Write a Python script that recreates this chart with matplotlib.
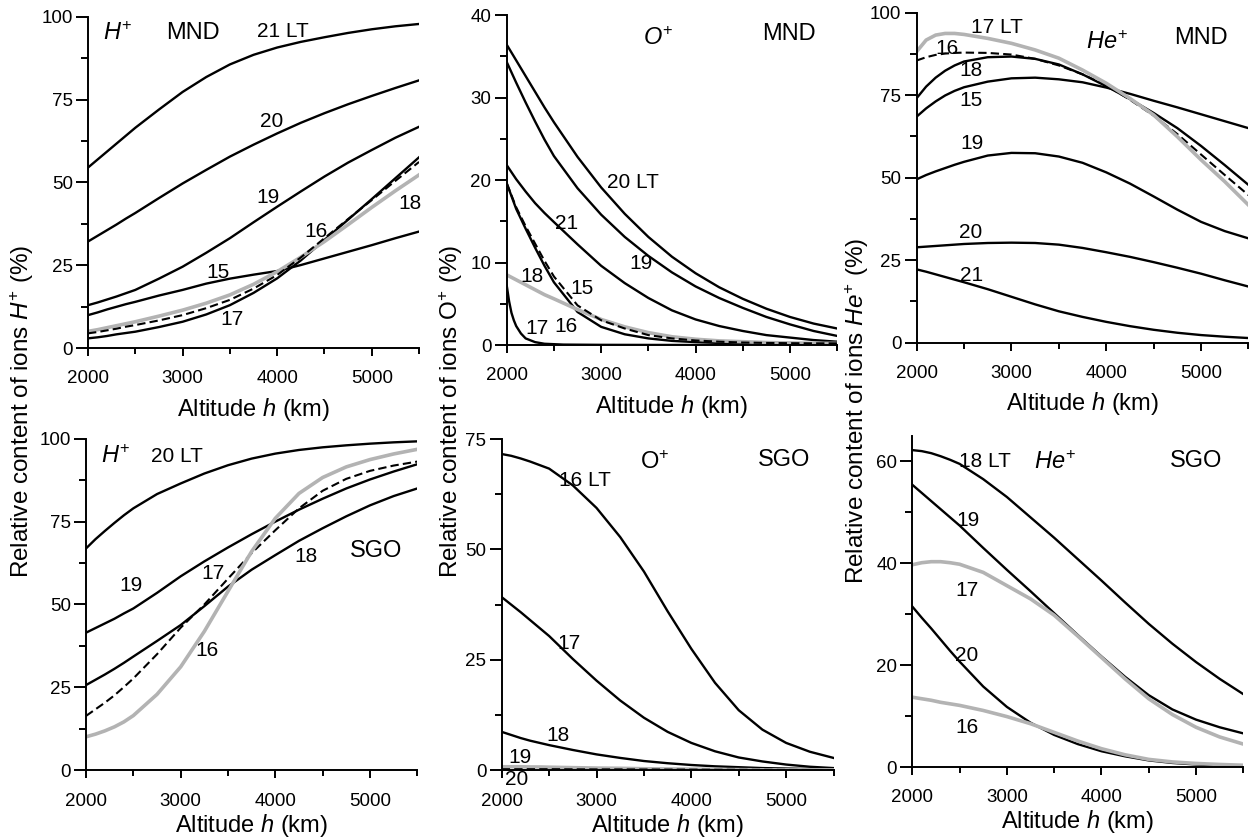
import numpy as np
import matplotlib
matplotlib.use('Agg')
import matplotlib.pyplot as plt
from matplotlib.ticker import MultipleLocator

plt.rcParams['font.family'] = ['Liberation Sans', 'DejaVu Sans']
plt.rcParams['mathtext.fontset'] = 'custom'
plt.rcParams['mathtext.rm'] = 'Liberation Sans'
plt.rcParams['mathtext.it'] = 'Liberation Sans:italic'

# altitude grid (km) shared by most curves
alt = [2000, 2100, 2200, 2300, 2400, 2500, 2750, 3000, 3250, 3500,
       3750, 4000, 4250, 4500, 4750, 5000, 5250, 5500]

# ---- H+ MND ----
hMnd15 = [10.0, 10.8, 11.7, 12.5, 13.3, 14.0, 15.9, 17.6, 19.5, 21.0, 22.2, 23.3, 25.1, 27.1, 29.1, 31.1, 33.2, 35.2]
hMnd16 = [4.5, 4.9, 5.4, 5.9, 6.5, 7.0, 8.4, 10.0, 12.1, 14.6, 18.0, 22.1, 27.4, 33.2, 39.0, 44.7, 50.5, 56.2]
hMnd17 = [3.0, 3.3, 3.7, 4.2, 4.6, 5.0, 6.4, 8.0, 10.2, 13.0, 16.7, 21.1, 26.5, 32.7, 38.8, 45.0, 51.3, 57.6]
hMnd18 = [5.1, 5.6, 6.2, 6.8, 7.4, 8.0, 9.7, 11.5, 13.6, 16.1, 19.3, 23.1, 27.5, 32.2, 37.3, 42.5, 47.5, 52.3]
hMnd19 = [13.0, 13.8, 14.7, 15.6, 16.6, 17.6, 21.0, 24.6, 28.8, 33.2, 38.0, 42.7, 47.3, 51.8, 56.0, 59.8, 63.5, 66.8]
hMnd20 = [32.2, 33.9, 35.6, 37.3, 39.1, 40.8, 45.3, 49.7, 53.8, 57.8, 61.4, 64.8, 68.0, 70.9, 73.6, 76.1, 78.5, 80.8]
hMnd21 = [54.5, 56.9, 59.3, 61.7, 64.1, 66.5, 72.0, 77.3, 81.8, 85.6, 88.5, 90.7, 92.4, 93.8, 95.1, 96.2, 97.1, 97.8]

# ---- O+ MND ----
oMnd15 = [19.6, 16.5, 14.1, 11.8, 9.6, 7.6, 4.0, 2.2, 1.3, 0.8, 0.5, 0.35, 0.25, 0.18, 0.12, 0.08, 0.05, 0.03]
oMnd16 = [19.6, 16.7, 14.4, 12.3, 10.2, 8.3, 4.8, 3.0, 2.0, 1.2, 0.8, 0.55, 0.4, 0.3, 0.25, 0.22, 0.2, 0.2]
oMnd18 = [8.5, 7.9, 7.3, 6.7, 6.1, 5.6, 4.3, 3.1, 2.2, 1.5, 1.0, 0.7, 0.5, 0.4, 0.3, 0.25, 0.2, 0.2]
oMnd19 = [34.3, 31.8, 29.4, 27.1, 24.9, 22.9, 19.0, 15.8, 13.1, 10.8, 8.8, 7.1, 5.7, 4.5, 3.4, 2.5, 1.7, 1.1]
oMnd20 = [36.4, 34.5, 32.6, 30.7, 28.8, 27.0, 22.8, 19.1, 15.9, 13.1, 10.7, 8.7, 7.0, 5.6, 4.4, 3.4, 2.6, 2.0]
oMnd21 = [21.8, 20.1, 18.6, 17.2, 16.0, 14.9, 12.2, 9.6, 7.5, 5.7, 4.2, 3.1, 2.3, 1.7, 1.2, 0.9, 0.6, 0.4]
# 17 LT falls off very fast, so it has its own altitude points
alt17 = [2000, 2025, 2050, 2075, 2100, 2150, 2200, 2300, 2400, 2600, 3000, 4000, 5500]
oMnd17 = [7.2, 5.3, 3.9, 3.0, 2.3, 1.4, 0.8, 0.35, 0.15, 0.05, 0.02, 0.0, 0.0]

# ---- He+ MND ----
heMnd15 = [68.5, 71.0, 73.1, 74.9, 76.3, 77.4, 79.1, 80.1, 80.3, 79.8, 78.9, 77.3, 75.4, 73.3, 71.3, 69.2, 67.1, 65.0]
heMnd16 = [85.5, 86.5, 87.2, 87.6, 87.8, 87.9, 87.8, 87.3, 86.0, 84.0, 81.3, 78.0, 73.6, 68.8, 63.2, 57.0, 50.8, 44.7]
heMnd17 = [88.2, 91.7, 93.2, 93.7, 93.7, 93.4, 92.2, 90.7, 88.7, 86.2, 82.6, 78.6, 74.0, 69.0, 62.4, 55.4, 48.8, 41.7]
heMnd18 = [74.1, 77.6, 80.3, 82.4, 84.0, 85.2, 86.5, 86.7, 86.0, 84.3, 81.3, 77.7, 73.8, 69.6, 65.0, 59.6, 53.8, 47.8]
heMnd19 = [49.5, 50.8, 51.9, 52.9, 53.9, 54.8, 56.7, 57.5, 57.4, 56.4, 54.5, 51.6, 48.2, 44.3, 40.3, 36.6, 33.8, 31.6]
heMnd20 = [28.9, 29.1, 29.3, 29.5, 29.7, 29.9, 30.2, 30.3, 30.2, 29.7, 28.7, 27.4, 26.0, 24.4, 22.7, 20.9, 18.9, 17.0]
heMnd21 = [22.2, 21.5, 20.7, 19.9, 19.1, 18.3, 16.2, 13.9, 11.6, 9.5, 7.8, 6.3, 5.0, 3.9, 3.0, 2.3, 1.8, 1.4]

# ---- H+ SGO ----
hSgo16 = [10.1, 10.9, 11.9, 13.1, 14.6, 16.5, 22.9, 31.2, 41.9, 54.0, 66.0, 76.0, 83.5, 88.3, 91.5, 93.7, 95.4, 96.8]
hSgo17 = [16.4, 18.4, 20.4, 22.6, 25.1, 27.7, 35.0, 43.0, 50.0, 57.8, 65.5, 72.4, 79.0, 84.3, 87.9, 90.3, 91.9, 93.1]
hSgo18 = [25.7, 27.3, 28.9, 30.6, 32.4, 34.3, 39.0, 43.8, 49.5, 55.4, 60.5, 64.9, 69.2, 73.0, 76.6, 79.9, 82.7, 85.0]
hSgo19 = [41.5, 42.9, 44.3, 45.7, 47.3, 48.8, 53.5, 58.5, 63.0, 67.2, 71.2, 75.0, 78.6, 81.9, 85.0, 87.7, 90.1, 92.3]
hSgo20 = [66.9, 69.7, 72.2, 74.6, 76.9, 79.0, 83.3, 86.5, 89.5, 92.0, 94.0, 95.5, 96.6, 97.4, 98.0, 98.5, 98.9, 99.2]

# ---- O+ SGO ----
oSgo16 = [71.6, 71.2, 70.6, 69.9, 69.1, 68.3, 64.5, 59.4, 52.8, 45.0, 36.0, 27.5, 19.8, 13.6, 9.2, 6.2, 4.2, 2.8]
oSgo17 = [39.2, 37.5, 35.8, 34.0, 32.2, 30.4, 25.2, 20.3, 15.8, 11.9, 8.7, 6.2, 4.3, 2.9, 2.0, 1.3, 0.8, 0.5]
oSgo18 = [8.7, 8.0, 7.3, 6.7, 6.2, 5.7, 4.6, 3.6, 2.8, 2.1, 1.6, 1.2, 0.9, 0.7, 0.5, 0.4, 0.3, 0.2]
oSgo19 = [0.8, 0.8, 0.8, 0.75, 0.75, 0.7, 0.6, 0.5, 0.45, 0.35, 0.3, 0.25, 0.2, 0.15, 0.1, 0.1, 0.1, 0.1]
oSgo20 = [0.25, 0.25, 0.25, 0.25, 0.25, 0.25, 0.22, 0.2, 0.2, 0.18, 0.16, 0.15, 0.12, 0.1, 0.1, 0.08, 0.06, 0.05]

# ---- He+ SGO ----
heSgo16 = [13.7, 13.4, 13.1, 12.7, 12.4, 12.1, 11.1, 9.9, 8.5, 6.8, 5.1, 3.6, 2.4, 1.5, 1.0, 0.7, 0.5, 0.35]
heSgo17 = [39.7, 40.1, 40.3, 40.3, 40.1, 39.8, 38.2, 35.6, 33.0, 29.8, 25.7, 21.5, 17.3, 13.4, 10.3, 7.8, 5.9, 4.5]
heSgo18 = [62.2, 62.0, 61.6, 61.0, 60.3, 59.5, 56.5, 53.0, 49.0, 45.0, 40.8, 36.6, 32.3, 28.1, 24.2, 20.6, 17.3, 14.3]
heSgo19 = [55.4, 53.8, 52.2, 50.6, 49.0, 47.4, 43.0, 38.7, 34.5, 30.2, 25.9, 21.7, 17.7, 14.1, 11.3, 9.3, 7.8, 6.6]
heSgo20 = [31.5, 29.3, 27.2, 25.0, 22.8, 20.7, 15.8, 11.8, 8.7, 6.3, 4.5, 3.1, 2.1, 1.3, 0.8, 0.5, 0.3, 0.2]

BLACK = dict(color='black', lw=1.7, ls='-')
GRAY = dict(color='#b3b3b3', lw=2.6, ls='-')
DASH = dict(color='black', lw=1.5, ls=(0, (4, 2)))


def setupAxes(ax, ymax, major, minor, xlabelpad=6):
    ax.set_xlim(2000, 5500)
    ax.set_ylim(0, ymax)
    ax.xaxis.set_major_locator(MultipleLocator(1000))
    ax.xaxis.set_minor_locator(MultipleLocator(500))
    ax.yaxis.set_major_locator(MultipleLocator(major))
    ax.yaxis.set_minor_locator(MultipleLocator(minor))
    for side in ['top', 'right']:
        ax.spines[side].set_visible(False)
    for side in ['left', 'bottom']:
        ax.spines[side].set_linewidth(1.4)
    ax.tick_params(axis='y', which='major', length=9, width=1.4, labelsize=13.5, pad=2)
    ax.tick_params(axis='y', which='minor', length=5, width=1.4)
    ax.tick_params(axis='x', which='major', length=6, width=1.4, labelsize=13.5, pad=10)
    ax.tick_params(axis='x', which='minor', length=4, width=1.4)
    ax.set_xlabel('Altitude $h$ (km)', fontsize=17, labelpad=xlabelpad)


def label(ax, x, y, s, size=15):
    ax.text(x, y, s, fontsize=size, ha='center', va='center', clip_on=False)


fig = plt.figure(figsize=(12.54, 8.38), dpi=100)

# H+ MND
ax = fig.add_axes([0.0702, 0.5844, 0.2640, 0.3957])
setupAxes(ax, 100, 25, 12.5)
for ys in [hMnd21, hMnd20, hMnd19, hMnd15, hMnd17]:
    ax.plot(alt, ys, **BLACK)
ax.plot(alt, hMnd18, **GRAY)
ax.plot(alt, hMnd16, **DASH)
label(ax, 2318, 95, '$H^{+}$', 17)
label(ax, 3105, 95, 'MND', 17)
label(ax, 4065, 95.5, '21 LT')
label(ax, 3941, 68.3, '20')
label(ax, 3906, 45.5, '19')
label(ax, 4411, 35.2, '16')
label(ax, 3377, 22.8, '15')
label(ax, 3518, 8.7, '17')
label(ax, 5399, 43.7, '18')

# O+ MND
ax = fig.add_axes([0.4041, 0.5883, 0.2635, 0.3938])
setupAxes(ax, 40, 10, 5)
for ys in [oMnd20, oMnd19, oMnd21, oMnd15]:
    ax.plot(alt, ys, **BLACK)
ax.plot(alt17, oMnd17, **BLACK)
ax.plot(alt, oMnd18, **GRAY)
ax.plot(alt, oMnd16, **DASH)
label(ax, 3606, 37.2, '$O^{+}$', 17)
label(ax, 4993, 37.7, 'MND', 17)
label(ax, 3341, 19.7, '20 LT')
label(ax, 2635, 14.7, '21')
label(ax, 3423, 9.9, '19')
label(ax, 2272, 8.3, '18')
label(ax, 2794, 6.9, '15')
label(ax, 2318, 2.0, '17')
label(ax, 2625, 2.3, '16')

# He+ MND
ax = fig.add_axes([0.7310, 0.5911, 0.2646, 0.3938])
setupAxes(ax, 100, 25, 12.5)
for ys in [heMnd21, heMnd20, heMnd19, heMnd15, heMnd18]:
    ax.plot(alt, ys, **BLACK)
ax.plot(alt, heMnd16, **DASH)
ax.plot(alt, heMnd17, **GRAY)
label(ax, 2844, 95.6, '17 LT')
label(ax, 4012, 90.9, '$He^{+}$', 17)
label(ax, 5000, 92.2, 'MND', 17)
label(ax, 2317, 89.2, '16')
label(ax, 2570, 82.6, '18')
label(ax, 2570, 73.5, '15')
label(ax, 2587, 60.2, '19')
label(ax, 2570, 33.4, '20')
label(ax, 2580, 20.2, '21')

# H+ SGO
ax = fig.add_axes([0.0686, 0.0808, 0.2642, 0.3957])
setupAxes(ax, 100, 25, 12.5, xlabelpad=2)
for ys in [hSgo20, hSgo19, hSgo18]:
    ax.plot(alt, ys, **BLACK)
ax.plot(alt, hSgo17, **DASH)
ax.plot(alt, hSgo16, **GRAY)
label(ax, 2317, 94.7, '$H^{+}$', 17)
label(ax, 2965, 94.7, '20 LT')
label(ax, 5063, 66, 'SGO', 17)
label(ax, 4324, 64.5, '18')
label(ax, 2472, 55.8, '19')
label(ax, 3338, 59.2, '17')
label(ax, 3275, 36.2, '16')

# O+ SGO
ax = fig.add_axes([0.4001, 0.0808, 0.2646, 0.3953])
setupAxes(ax, 75, 25, 12.5, xlabelpad=2)
for ys in [oSgo16, oSgo17, oSgo18]:
    ax.plot(alt, ys, **BLACK)
ax.plot(alt, oSgo19, **GRAY)
ax.plot(alt, oSgo20, **DASH)
label(ax, 3618, 69.6, '$\\mathrm{O}^{+}$', 17)
label(ax, 4979, 70.3, 'SGO', 17)
label(ax, 2879, 65.7, '16 LT')
label(ax, 2714, 28.8, '17')
label(ax, 2598, 7.9, '18')
label(ax, 2193, 3.0, '19')
label(ax, 2158, -2.1, '20')

# He+ SGO
ax = fig.add_axes([0.7275, 0.0847, 0.2640, 0.3952])
setupAxes(ax, 65, 20, 10, xlabelpad=1)
for ys in [heSgo18, heSgo19, heSgo20]:
    ax.plot(alt, ys, **BLACK)
ax.plot(alt, heSgo17, **GRAY)
ax.plot(alt, heSgo16, **GRAY)
label(ax, 2768, 60.0, '18 LT')
label(ax, 3509, 59.7, '$He^{+}$', 17)
label(ax, 5000, 60.0, 'SGO', 17)
label(ax, 2585, 48.4, '19')
label(ax, 2575, 34.7, '17')
label(ax, 2575, 21.9, '20')
label(ax, 2575, 7.8, '16')

# shared y labels, one per column
yc = 1 - 411 / 838
fig.text(22 / 1254, yc, 'Relative content of ions $H^{+}$ (%)', rotation=90,
         fontsize=17.5, ha='center', va='center')
fig.text(451 / 1254, yc, 'Relative content of ions $\\mathrm{O}^{+}$ (%)', rotation=90,
         fontsize=17.5, ha='center', va='center')
fig.text(857 / 1254, yc, 'Relative content of ions $He^{+}$ (%)', rotation=90,
         fontsize=17.5, ha='center', va='center')

fig.savefig('out.png', dpi=100)
